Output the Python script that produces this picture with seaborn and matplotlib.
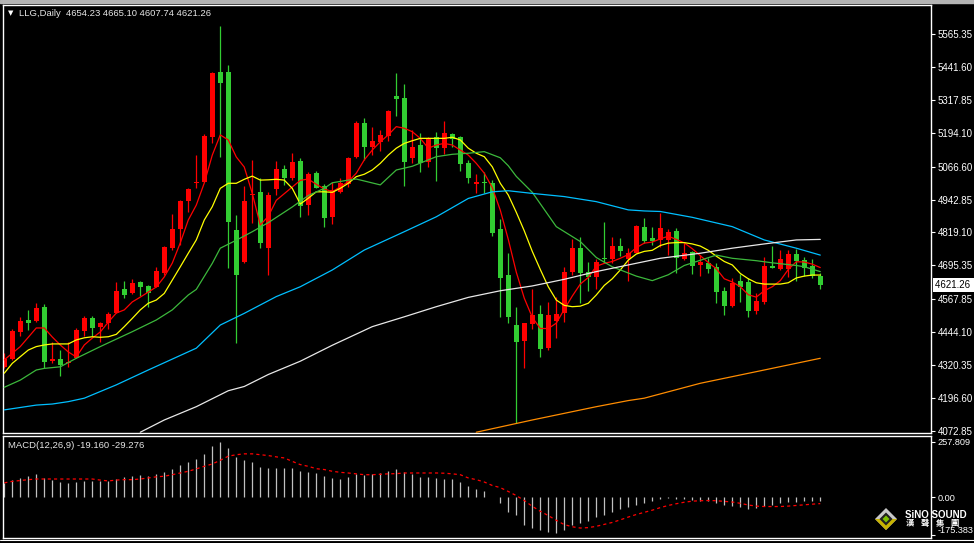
import numpy as np
import pandas as pd
import matplotlib
matplotlib.use("Agg")
import matplotlib.pyplot as plt
import matplotlib.transforms as mtransforms
from matplotlib.patches import Rectangle, Polygon
from matplotlib.lines import Line2D
import seaborn as sns

# daily candles, red = up, green = down
open_ = [4314, 4342, 4446, 4490, 4487, 4540, 4336, 4343, 4327, 4348,
         4450, 4499, 4463, 4480, 4517, 4607, 4590, 4632, 4619, 4615,
         4666, 4760, 4832, 4937, 5004, 5010, 5179, 5424, 5424, 4828,
         4707, 4960, 4970, 4762, 4983, 5058, 5025, 5088, 4922, 5042,
         4995, 4878, 4970, 5001, 5102, 5232, 5142, 5158, 5182, 5332,
         5326, 5100, 5148, 5085, 5177, 5136, 5188, 5177, 5079, 5000,
         5010, 5004, 4831, 4659, 4471, 4412, 4475, 4511, 4386, 4487,
         4515, 4672, 4762, 4669, 4653, 4724, 4718, 4768, 4718, 4743,
         4841, 4799, 4791, 4791, 4825, 4718, 4747, 4697, 4705, 4690,
         4599, 4542, 4637, 4634, 4525, 4559, 4693, 4681, 4682, 4738,
         4716, 4693, 4654.23]
high = [4365, 4455, 4502, 4528, 4553, 4550, 4408, 4377, 4408, 4459,
        4505, 4506, 4484, 4521, 4634, 4637, 4644, 4637, 4622, 4690,
        4768, 4889, 4941, 4987, 5110, 5188, 5421, 5597, 5449, 4885,
        4995, 5092, 5023, 4972, 5088, 5073, 5117, 5098, 5045, 5050,
        5000, 5010, 5025, 5104, 5238, 5251, 5217, 5204, 5280, 5420,
        5377, 5204, 5192, 5179, 5196, 5238, 5192, 5182, 5092, 5038,
        5048, 5016, 4870, 4742, 4540, 4480, 4605, 4546, 4559, 4578,
        4690, 4793, 4803, 4709, 4718, 4860, 4803, 4797, 4760, 4847,
        4875, 4841, 4893, 4831, 4835, 4778, 4750, 4734, 4722, 4705,
        4613, 4647, 4663, 4647, 4590, 4726, 4768, 4753, 4753, 4756,
        4728, 4718, 4665.10]
low = [4308, 4340, 4430, 4452, 4484, 4308, 4327, 4279, 4312, 4346,
       4430, 4430, 4408, 4455, 4515, 4572, 4588, 4581, 4540, 4613,
       4659, 4753, 4772, 4897, 4987, 5008, 5154, 5104, 4687, 4405,
       4705, 4854, 4760, 4659, 4960, 4998, 5016, 4878, 4885, 4985,
       4841, 4851, 4966, 4991, 5100, 5092, 5110, 5127, 5163, 5257,
       4994, 5081, 5048, 5064, 5014, 5114, 5139, 5051, 5006, 4966,
       4966, 4806, 4502, 4479, 4102, 4308, 4456, 4352, 4377, 4421,
       4484, 4659, 4555, 4600, 4605, 4703, 4703, 4731, 4637, 4741,
       4781, 4772, 4766, 4734, 4668, 4716, 4662, 4655, 4666, 4555,
       4509, 4540, 4559, 4502, 4513, 4549, 4684, 4678, 4651, 4638,
       4655, 4647, 4607.74]
close = [4342, 4450, 4486, 4480, 4536, 4333, 4343, 4321, 4333, 4452,
         4499, 4459, 4480, 4513, 4599, 4584, 4628, 4615, 4593, 4674,
         4763, 4831, 4937, 4983, 5010, 5183, 5418, 5380, 4860, 4659,
         4937, 4964, 4778, 4960, 5058, 5025, 5083, 4920, 5039, 4987,
         4875, 4979, 5004, 5100, 5230, 5142, 5163, 5186, 5276, 5320,
         5085, 5139, 5079, 5173, 5136, 5192, 5171, 5077, 5023, 5010,
         5004, 4816, 4649, 4502, 4408, 4478, 4509, 4380, 4509, 4511,
         4672, 4762, 4668, 4653, 4707, 4718, 4768, 4751, 4743, 4843,
         4787, 4787, 4837, 4822, 4724, 4743, 4693, 4709, 4682, 4596,
         4542, 4628, 4613, 4525, 4563, 4694, 4687, 4718, 4738, 4712,
         4684, 4655, 4621.26]

# moving average lines as drawn on the chart
ma_red = [4340, 4365, 4390, 4425, 4460, 4460, 4426, 4396, 4370, 4351,
          4396, 4422, 4445, 4482, 4516, 4528, 4558, 4576, 4595, 4614,
          4652, 4704, 4780, 4866, 4922, 5005, 5110, 5186, 5167, 5103,
          5065, 4966, 4847, 4880, 4940, 4965, 4990, 5015, 5020, 5000,
          4983, 4972, 4991, 5010, 5042, 5092, 5129, 5160, 5186, 5217,
          5211, 5198, 5173, 5136, 5148, 5154, 5148, 5129, 5110, 5079,
          5042, 4988, 4903, 4793, 4670, 4572, 4500, 4458, 4458, 4478,
          4530, 4580, 4625, 4650, 4692, 4703, 4710, 4722, 4736, 4762,
          4779, 4783, 4795, 4805, 4793, 4780, 4758, 4732, 4706, 4683,
          4645, 4633, 4615, 4585, 4576, 4600, 4615, 4638, 4680, 4709,
          4708, 4700, 4687]
ma_yellow = [4290, 4327, 4352, 4377, 4390, 4396, 4400, 4400, 4400, 4415,
             4423, 4427, 4425, 4427, 4436, 4465, 4496, 4528, 4553, 4565,
             4590, 4640, 4690, 4741, 4791, 4866, 4916, 4985, 5004, 5004,
             5019, 5031, 5016, 5017, 5019, 5016, 4985, 4926, 4948, 4972,
             4972, 4970, 4985, 5004, 5029, 5038, 5054, 5079, 5110, 5136,
             5154, 5164, 5173, 5173, 5173, 5173, 5177, 5167, 5136, 5117,
             5104, 5066, 5004, 4960, 4895, 4825, 4748, 4680, 4615, 4565,
             4545, 4540, 4542, 4553, 4584, 4620, 4645, 4678, 4715, 4738,
             4748, 4752, 4770, 4779, 4781, 4781, 4776, 4768, 4752, 4730,
             4710, 4697, 4665, 4645, 4630, 4625, 4625, 4625, 4630, 4648,
             4655, 4659, 4659]
green_idx = [0, 2, 4, 5, 7, 9, 12, 16, 19, 21, 23, 24, 26, 27, 29, 31, 33,
             36, 38, 40, 41, 43, 44, 47, 49, 51, 54, 56, 58, 60, 62, 63, 64,
             66, 69, 72, 74, 76, 79, 81, 83, 85, 89, 91, 94, 96, 99, 100, 102]
ma_green = [4237, 4264, 4302, 4308, 4314, 4346, 4390, 4446, 4490, 4528,
            4584, 4605, 4703, 4760, 4790, 4822, 4856, 4915, 4958, 4985,
            5006, 5016, 5020, 4998, 5054, 5068, 5104, 5113, 5117, 5123,
            5100, 5070, 5030, 4970, 4841, 4785, 4725, 4690, 4655, 4638,
            4660, 4695, 4734, 4722, 4713, 4705, 4695, 4690, 4672]
blue_idx = [0, 4, 6, 8, 10, 14, 18, 24, 27, 30, 34, 37, 41, 45, 50, 54, 58,
            61, 63, 66, 70, 74, 78, 80, 82, 86, 91, 95, 99, 102]
ma_blue = [4152, 4170, 4174, 4183, 4196, 4246, 4302, 4384, 4471, 4515,
           4578, 4615, 4678, 4753, 4822, 4878, 4947, 4972, 4976, 4966,
           4954, 4935, 4904, 4900, 4898, 4876, 4841, 4791, 4760, 4734]
white_idx = [17, 20, 24, 28, 30, 33, 37, 41, 46, 50, 54, 58, 62, 66, 70,
             74, 78, 82, 87, 91, 95, 99, 102]
ma_white = [4068, 4114, 4164, 4224, 4240, 4285, 4335, 4395, 4465, 4502,
            4540, 4575, 4600, 4618, 4643, 4672, 4697, 4722, 4741, 4760,
            4776, 4791, 4793]
orange_idx = [59, 66, 74, 78, 80, 87, 95, 102]
ma_orange = [4068, 4114, 4164, 4187, 4196, 4252, 4302, 4346]

# MACD(12,26,9): main as histogram, signal as dotted line
macd = [66.7, 79, 91.5, 97.7, 107, 90, 82, 73, 66.7, 70,
        74.4, 74.4, 77.5, 74.4, 85, 93, 97.7, 102, 100.8, 108.5,
        116, 130, 149, 163, 177, 200, 237, 257.8, 228, 186,
        172, 163, 139.5, 135, 135, 135, 135, 121, 119, 111.6,
        97.7, 90, 83.7, 93, 108.5, 102, 110, 111.6, 121, 130,
        116, 108.5, 96, 93, 90, 85, 83.7, 71.3, 54, 40,
        28, 3, -24.8, -66.7, -82, -128.7, -141, -152, -160, -164,
        -152, -128.7, -117.8, -108.5, -93, -82, -66.7, -55.8, -46.5, -35.7,
        -24.8, -15.5, -7.8, -4.7, -6.2, -6.2, -12.4, -17, -17, -24.8,
        -35.7, -38.8, -43.4, -52.7, -51, -40.3, -37.2, -27.9, -23.3, -20.2,
        -15.5, -15.5, -19.16]
signal = [67, 74, 78, 82, 85, 85, 85, 85, 85, 85,
          85, 85, 80, 76, 80, 82, 82, 85, 90, 95,
          98, 105, 113, 121, 132, 144, 155, 172, 191, 198,
          202, 202, 198, 194, 188, 183, 167, 152, 144, 133,
          129, 121, 116, 113, 109, 105, 105, 107, 109, 110,
          113, 113, 113, 113, 113, 112, 109, 105, 90, 82,
          71, 55, 45, 27, 8, -15, -42, -65, -85, -107,
          -127, -137, -143, -141, -135, -126, -117, -105, -92, -80,
          -70, -60, -48, -38, -30, -23, -18, -16, -15, -16,
          -19, -22, -28, -36, -41, -43, -43, -43, -41, -38,
          -35, -32, -29.276]

price_ticks = [5565.35, 5441.60, 5317.85, 5194.10, 5066.60, 4942.85, 4819.10,
               4695.35, 4567.85, 4444.10, 4320.35, 4196.60, 4072.85]
macd_ticks = [257.809, 0.0, -175.383]
macd_tick_labels = ["257.809", "0.00", "-175.383"]

RED = "#ff0000"
GREEN = "#32cd32"

sns.set_style("dark")
plt.rcParams["font.family"] = ["Liberation Sans", "DejaVu Sans"]

W, H = 974, 543
fig = plt.figure(figsize=(W / 100, H / 100), dpi=100, facecolor="black")


def box(x0, y0, x1, y1):
    return [x0 / W, 1 - y1 / H, (x1 - x0) / W, (y1 - y0) / H]


ax = fig.add_axes(box(3, 5, 931, 432.7))
axm = fig.add_axes(box(3, 436, 931, 537.5))

df = pd.DataFrame({"open": open_, "high": high, "low": low, "close": close})
df["i"] = np.arange(len(df))
colors = np.where(df["close"] >= df["open"], RED, GREEN)

# candles
ax.vlines(df["i"], df["low"], df["high"], colors=colors, lw=0.9, zorder=2)
body_lo = df[["open", "close"]].min(axis=1)
body_h = (df["close"] - df["open"]).abs().clip(lower=4)
ax.bar(df["i"], body_h, bottom=body_lo, width=0.62, color=colors,
       linewidth=0, zorder=2)

# moving averages
lw = 0.9
sns.lineplot(x=df["i"], y=ma_red, ax=ax, color=RED, lw=lw, zorder=3)
sns.lineplot(x=df["i"], y=ma_yellow, ax=ax, color="#ffff00", lw=lw, zorder=3)
sns.lineplot(x=green_idx, y=ma_green, ax=ax, color="#3cb83c", lw=lw, zorder=3)
sns.lineplot(x=blue_idx, y=ma_blue, ax=ax, color="#00bfff", lw=lw, zorder=3)
sns.lineplot(x=white_idx, y=ma_white, ax=ax, color="#e8e8e8", lw=lw, zorder=3)
sns.lineplot(x=orange_idx, y=ma_orange, ax=ax, color="#ff8c00", lw=lw, zorder=3)

# MACD panel
axm.vlines(df["i"], 0, macd, colors="#c0c0c0", lw=0.9)
axm.plot(df["i"], signal, color=RED, lw=0.9, ls=(0, (2.5, 2.5)))

for a in (ax, axm):
    a.set_facecolor("black")
    a.grid(False)
    a.set_xlim(-0.16, 115.84)
    a.set_xticks([])
    a.set_xlabel("")
    a.set_ylabel("")
    a.yaxis.tick_right()
    a.tick_params(axis="y", colors="white", length=3, width=0.8,
                  labelsize=7, pad=2, direction="out")
    for s in a.spines.values():
        s.set_color("white")
        s.set_linewidth(1)

ax.set_ylim(4066.2, 5674.4)
ax.set_yticks(price_ticks)
ax.set_yticklabels([f"{t:.2f}" for t in price_ticks])

axm.set_ylim(-187, 285)
axm.set_yticks(macd_ticks)
axm.set_yticklabels(macd_tick_labels)
axm.tick_params(axis="y", labelsize=6.6)
# bottom label sits just above its tick, as in the terminal
axm.get_yticklabels()[-1].set_va("bottom")

# last price box
trans = mtransforms.blended_transform_factory(ax.transAxes, ax.transData)
ax.text(1.004, close[-1], f"{close[-1]:.2f}  ", transform=trans, ha="left",
        va="center", fontsize=7, color="black", zorder=5, clip_on=False,
        bbox=dict(boxstyle="square,pad=0.18", fc="white", ec="none"))

# header texts
fig.text(8 / W, 1 - 13.5 / H, "▼", fontsize=5, color="white", va="center",
         family="DejaVu Sans")
fig.text(19 / W, 1 - 13.5 / H, "LLG,Daily  4654.23 4665.10 4607.74 4621.26",
         fontsize=6.8, color="#e6e6e6", va="center")
fig.text(8 / W, 1 - 445 / H, "MACD(12,26,9) -19.160 -29.276",
         fontsize=6.8, color="#e6e6e6", va="center")

# window chrome
fig.add_artist(Rectangle((0, 1 - 2.7 / H), 1, 2.7 / H,
                         transform=fig.transFigure, color="#b4b4b4"))
fig.add_artist(Line2D([0, 1], [1 - 540 / H] * 2, transform=fig.transFigure,
                      color="white", lw=0.8))


# watermark logo
def diamond(cx, cy, r, color, half=None):
    pts = [(cx, cy - r), (cx + r, cy), (cx, cy + r), (cx - r, cy)]
    if half == "bottom":
        pts = [(cx - r, cy), (cx + r, cy), (cx, cy + r)]
    pts = [(x / W, 1 - y / H) for x, y in pts]
    fig.add_artist(Polygon(pts, closed=True, transform=fig.transFigure,
                           fc=color, ec="none"))


diamond(886, 519, 11, "#c8c8c8")
diamond(886, 519, 11, "#c8b400", half="bottom")
diamond(886, 519, 6.5, "#202020")
diamond(886, 519, 3.5, "#7cc000")
fig.text(905 / W, 1 - 514.5 / H, "SiNO SOUND", fontsize=7, fontweight="bold",
         color="white", va="center")
for ch, x in zip("漢聲集團", [910, 925, 940, 955]):
    fig.text(x / W, 1 - 523.5 / H, ch, fontsize=6, fontweight="bold",
             color="white", ha="center", va="center",
             family=["Noto Sans CJK TC"])

fig.savefig("out.png", dpi=100, facecolor="black")
